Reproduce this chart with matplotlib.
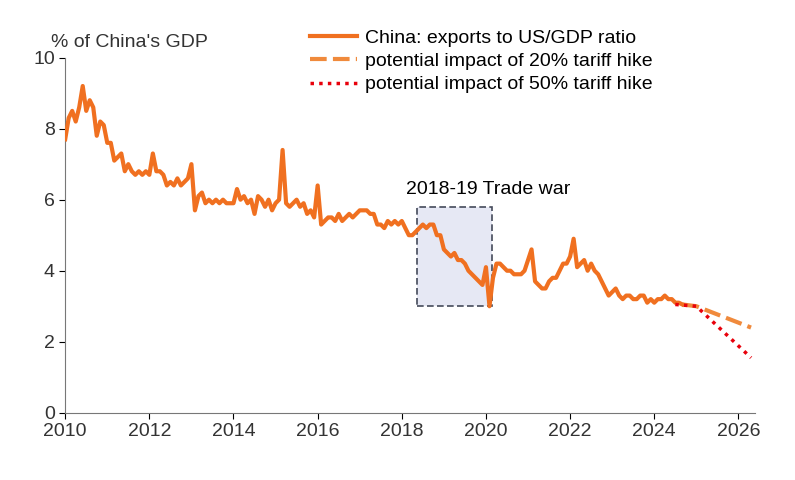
import numpy as np
import matplotlib
matplotlib.use('Agg')
from matplotlib import pyplot as plt
from matplotlib.patches import Rectangle

plt.rcParams['font.family'] = ['Liberation Sans', 'DejaVu Sans']

# monthly exports to US / GDP ratio, Jan 2010 .. Sep 2024
ratio = [
    7.7, 8.3, 8.5, 8.2, 8.6, 9.2, 8.5, 8.8, 8.6, 7.8, 8.2, 8.1,   # 2010
    7.6, 7.6, 7.1, 7.2, 7.3, 6.8, 7.0, 6.8, 6.7, 6.8, 6.7, 6.8,   # 2011
    6.7, 7.3, 6.8, 6.8, 6.7, 6.4, 6.5, 6.4, 6.6, 6.4, 6.5, 6.6,   # 2012
    7.0, 5.7, 6.1, 6.2, 5.9, 6.0, 5.9, 6.0, 5.9, 6.0, 5.9, 5.9,   # 2013
    5.9, 6.3, 6.0, 6.1, 5.9, 6.0, 5.6, 6.1, 6.0, 5.8, 6.0, 5.7,   # 2014
    5.9, 6.0, 7.4, 5.9, 5.8, 5.9, 6.0, 5.8, 5.9, 5.6, 5.7, 5.5,   # 2015
    6.4, 5.3, 5.4, 5.5, 5.5, 5.4, 5.6, 5.4, 5.5, 5.6, 5.5, 5.6,   # 2016
    5.7, 5.7, 5.7, 5.6, 5.6, 5.3, 5.3, 5.2, 5.4, 5.3, 5.4, 5.3,   # 2017
    5.4, 5.2, 5.0, 5.0, 5.1, 5.2, 5.3, 5.2, 5.3, 5.3, 5.0, 5.0,   # 2018
    4.6, 4.5, 4.4, 4.5, 4.3, 4.3, 4.2, 4.0, 3.9, 3.8, 3.7, 3.6,   # 2019
    4.1, 3.0, 3.8, 4.2, 4.2, 4.1, 4.0, 4.0, 3.9, 3.9, 3.9, 4.0,   # 2020
    4.3, 4.6, 3.7, 3.6, 3.5, 3.5, 3.7, 3.8, 3.8, 4.0, 4.2, 4.2,   # 2021
    4.4, 4.9, 4.1, 4.2, 4.3, 4.0, 4.2, 4.0, 3.9, 3.7, 3.5, 3.3,   # 2022
    3.4, 3.5, 3.3, 3.2, 3.3, 3.3, 3.2, 3.2, 3.3, 3.3, 3.1, 3.2,   # 2023
    3.1, 3.2, 3.2, 3.3, 3.2, 3.2, 3.1, 3.1, 3.05,                 # 2024
]
t = 2010 + np.arange(len(ratio)) / 12

proj20_t = [2024.67, 2025.0, 2026.3]
proj20 = [3.05, 3.0, 2.4]
proj50_t = [2024.5, 2025.0, 2026.3]
proj50 = [3.05, 3.0, 1.55]

orange = '#F07020'
fig, ax = plt.subplots(figsize=(7.95, 4.8), dpi=100)
fig.subplots_adjust(left=0.082, right=0.95, top=0.88, bottom=0.14)

ax.add_patch(Rectangle((2018.37, 3.0), 1.78, 2.8, facecolor='#E6E8F4',
                       edgecolor='#444A5A', linestyle=(0, (4, 2)), lw=1.2, zorder=1))
ax.text(2018.1, 6.3, '2018-19 Trade war', ha='left', va='center', fontsize=14)

ax.plot(t, ratio, color=orange, lw=3, label='China: exports to US/GDP ratio', zorder=3)
ax.plot(proj20_t, proj20, color='#F08A3C', lw=3, ls=(0, (4, 1.5)),
        label='potential impact of 20% tariff hike', zorder=2)
ax.plot(proj50_t, proj50, color='#E8000B', lw=2.5, ls=(0, (1, 1.5)),
        label='potential impact of 50% tariff hike', zorder=4)

ax.set_xlim(2010, 2026.4)
ax.set_ylim(0, 10)
ax.set_xticks(range(2010, 2027, 2))
ax.set_yticks(range(0, 11, 2))
ax.tick_params(labelsize=14, length=4, labelcolor='#333333')
for s in ['top', 'right']:
    ax.spines[s].set_visible(False)
for s in ['left', 'bottom']:
    ax.spines[s].set_color('#777777')

ax.text(-0.02, 1.03, "% of China's GDP", transform=ax.transAxes, fontsize=14,
        color='#333333')
ax.legend(loc='upper left', bbox_to_anchor=(0.33, 1.13), frameon=False, fontsize=14,
          handlelength=2.4, labelspacing=0.3, handletextpad=0.4)

fig.savefig('out.png')
